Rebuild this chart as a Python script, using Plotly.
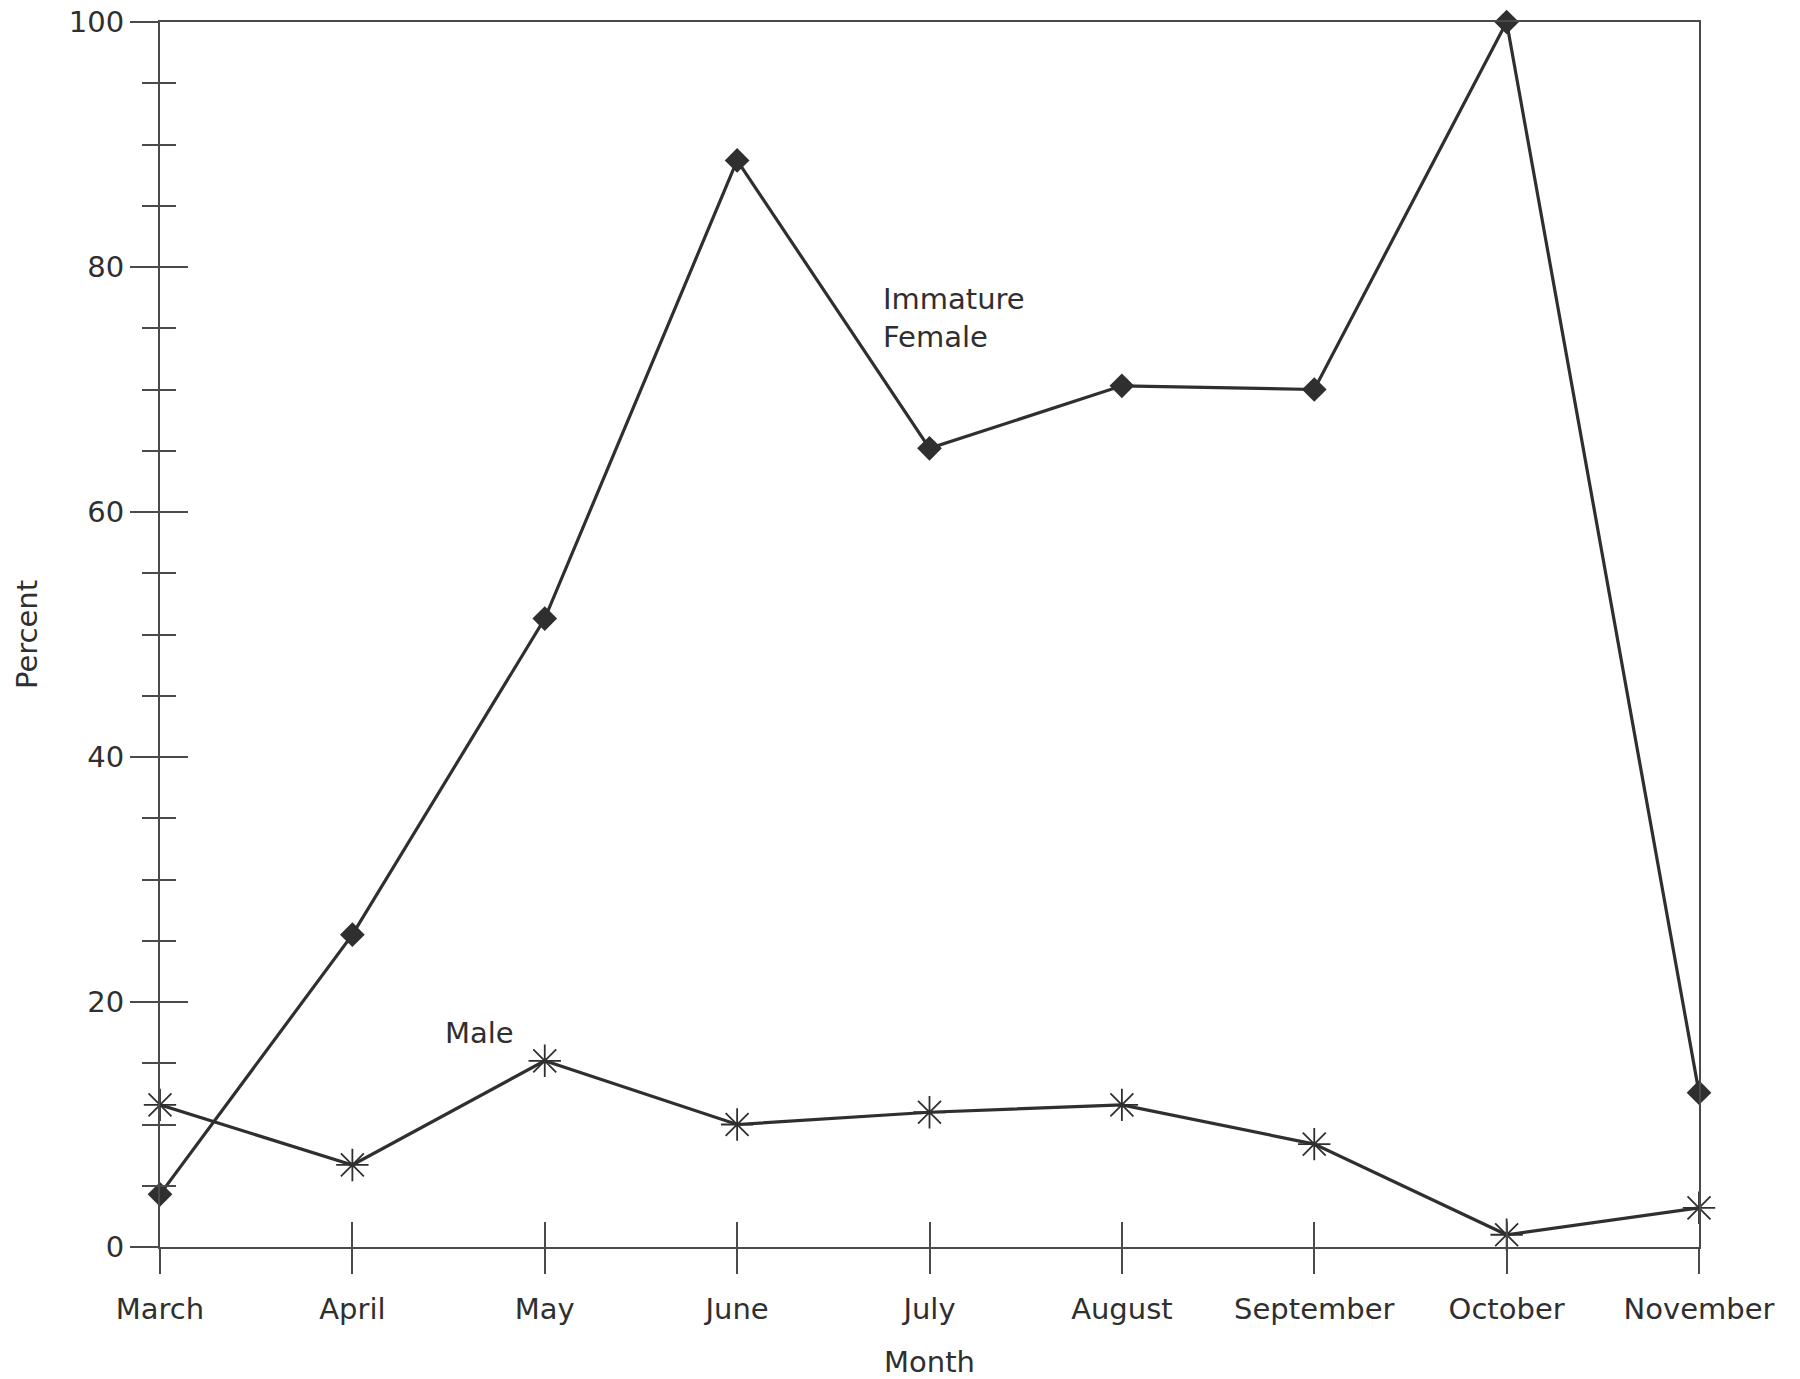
import plotly.graph_objects as go

# Monthly composition of the catch (percent)
months = ["March", "April", "May", "June", "July", "August", "September", "October", "November"]
immature_female = [4.3, 25.5, 51.3, 88.7, 65.2, 70.3, 70.0, 100.0, 12.6]
male = [11.6, 6.7, 15.2, 10.0, 11.0, 11.6, 8.4, 1.0, 3.2]

y_ticks = [0, 20, 40, 60, 80, 100]

INK = "#2f2f2f"
AXIS = "#4a4a4a"
FONT = "DejaVu Sans, Liberation Sans, Arial, sans-serif"

xpos = list(range(len(months)))

fig = go.Figure()

fig.add_trace(go.Scatter(
    x=xpos, y=immature_female, mode="lines+markers", name="Immature Female",
    line=dict(color=INK, width=3.2),
    marker=dict(symbol="diamond", size=19, color=INK),
    cliponaxis=False, showlegend=False,
))
fig.add_trace(go.Scatter(
    x=xpos, y=male, mode="lines+markers", name="Male",
    line=dict(color=INK, width=3.2),
    marker=dict(symbol="asterisk-open", size=27, line=dict(color=INK, width=1.8)),
    cliponaxis=False, showlegend=False,
))
# empty trace that anchors the overlay axes carrying the inner half of each tick
fig.add_trace(go.Scatter(x=[], y=[], xaxis="x2", yaxis="y2", showlegend=False))

fig.update_layout(
    width=1800, height=1379,
    margin=dict(l=160, r=101, t=22, b=132),
    paper_bgcolor="white", plot_bgcolor="white",
    font=dict(family=FONT, size=29, color=INK),
    xaxis=dict(
        range=[0, len(months) - 1],
        tickmode="array", tickvals=xpos, ticktext=months,
        ticks="outside", ticklen=25, tickwidth=2, tickcolor=AXIS,
        showline=True, linecolor=AXIS, linewidth=2, mirror=True,
        showgrid=False, zeroline=False, automargin=False,
        tickfont=dict(size=29, color=INK),
        title=dict(text="Month", font=dict(size=29, color=INK), standoff=27),
        ticklabelstandoff=10,
    ),
    yaxis=dict(
        range=[0, 100],
        tickmode="array", tickvals=y_ticks,
        ticks="outside", ticklen=28, tickwidth=2, tickcolor=AXIS,
        minor=dict(dtick=5, ticks="outside", ticklen=16, tickwidth=2, tickcolor=AXIS),
        showline=True, linecolor=AXIS, linewidth=2, mirror=True,
        showgrid=False, zeroline=False, automargin=False,
        tickfont=dict(size=29, color=INK),
        title=dict(text="Percent", font=dict(size=29, color=INK), standoff=23),
        ticklabelstandoff=0,
    ),
    xaxis2=dict(
        overlaying="x", matches="x", anchor="y2",
        tickmode="array", tickvals=xpos,
        ticks="inside", ticklen=25, tickwidth=2, tickcolor=AXIS,
        showticklabels=False, showline=False, showgrid=False, zeroline=False,
        automargin=False,
    ),
    yaxis2=dict(
        overlaying="y", matches="y", anchor="x2",
        tickmode="array", tickvals=y_ticks,
        ticks="inside", ticklen=28, tickwidth=2, tickcolor=AXIS,
        minor=dict(dtick=5, ticks="inside", ticklen=16, tickwidth=2, tickcolor=AXIS),
        showticklabels=False, showline=False, showgrid=False, zeroline=False,
        automargin=False,
    ),
    annotations=[
        dict(x=3.75, y=75.8, xref="x", yref="y", text="Immature<br>Female",
             showarrow=False, xanchor="left", yanchor="middle", align="left",
             font=dict(size=29, color=INK)),
        dict(x=1.47, y=17.5, xref="x", yref="y", text="Male",
             showarrow=False, xanchor="left", yanchor="middle", align="left",
             font=dict(size=29, color=INK)),
    ],
)

fig.write_html("out.html")
